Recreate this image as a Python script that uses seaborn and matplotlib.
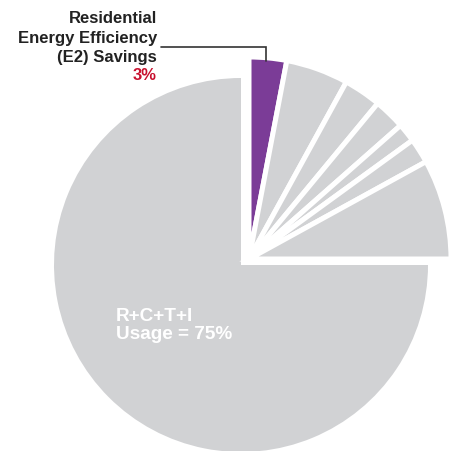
import matplotlib
matplotlib.use("Agg")
import matplotlib.pyplot as plt
import seaborn as sns

sns.set_theme(style="white")
plt.rcParams["font.family"] = ["Liberation Sans", "DejaVu Sans"]

# Share of total usage
usage_lines = ["R+C+T+I", "Usage = 75%"]
usage_share = 75

# Exploded savings segments, clockwise from 12 o'clock
savings_names = ["Residential E2", "Seg 2", "Seg 3", "Seg 4", "Seg 5", "Seg 6", "Seg 7"]
savings_shares = [3, 5, 3, 2.5, 1.5, 2, 8]
savings_colors = ["#7b3c97", "#d1d2d4", "#d1d2d4", "#d1d2d4", "#d1d2d4", "#d1d2d4", "#d1d2d4"]

callout_lines = ["Residential", "Energy Efficiency", "(E2) Savings"]
callout_value = "3%"

GRAY = "#d1d2d4"
W, H = 454, 452

fig = plt.figure(figsize=(W / 100, H / 100), dpi=100)
ax = fig.add_axes([0, 0, 1, 1])

# Main usage wedge
w1, _ = ax.pie([usage_share, sum(savings_shares)], colors=[GRAY, GRAY],
               startangle=0, counterclock=False,
               center=(241, H - 266), radius=187,
               wedgeprops=dict(linewidth=0))
w1[1].set_visible(False)

# Savings wedges, pulled out to the upper right
w2, _ = ax.pie(savings_shares + [usage_share], colors=savings_colors + [GRAY],
               startangle=90, counterclock=False,
               center=(249, H - 260), radius=202,
               wedgeprops=dict(edgecolor="white", linewidth=3.6))
w2[-1].set_visible(False)

ax.set_xlim(0, W)
ax.set_ylim(0, H)
ax.set_aspect("equal")
ax.axis("off")

# Callout for the E2 slice
for i, line in enumerate(callout_lines):
    ax.text(157, H - (23 + 19.5 * i), line, ha="right", va="baseline",
            fontsize=12, fontweight="bold", color="#222222")
ax.text(157, H - 80, callout_value, ha="right", va="baseline", fontsize=12,
        fontweight="bold", color="#c8102e")
ax.plot([161, 266, 266], [H - 48, H - 48, H - 62], color="#333333", lw=1.2,
        solid_joinstyle="miter")

# Label inside the usage wedge
for i, line in enumerate(usage_lines):
    ax.text(116, H - (321 + 18.5 * i), line, ha="left", va="baseline",
            fontsize=13.7, fontweight="bold", color="white")

fig.savefig("out.png", dpi=100)
